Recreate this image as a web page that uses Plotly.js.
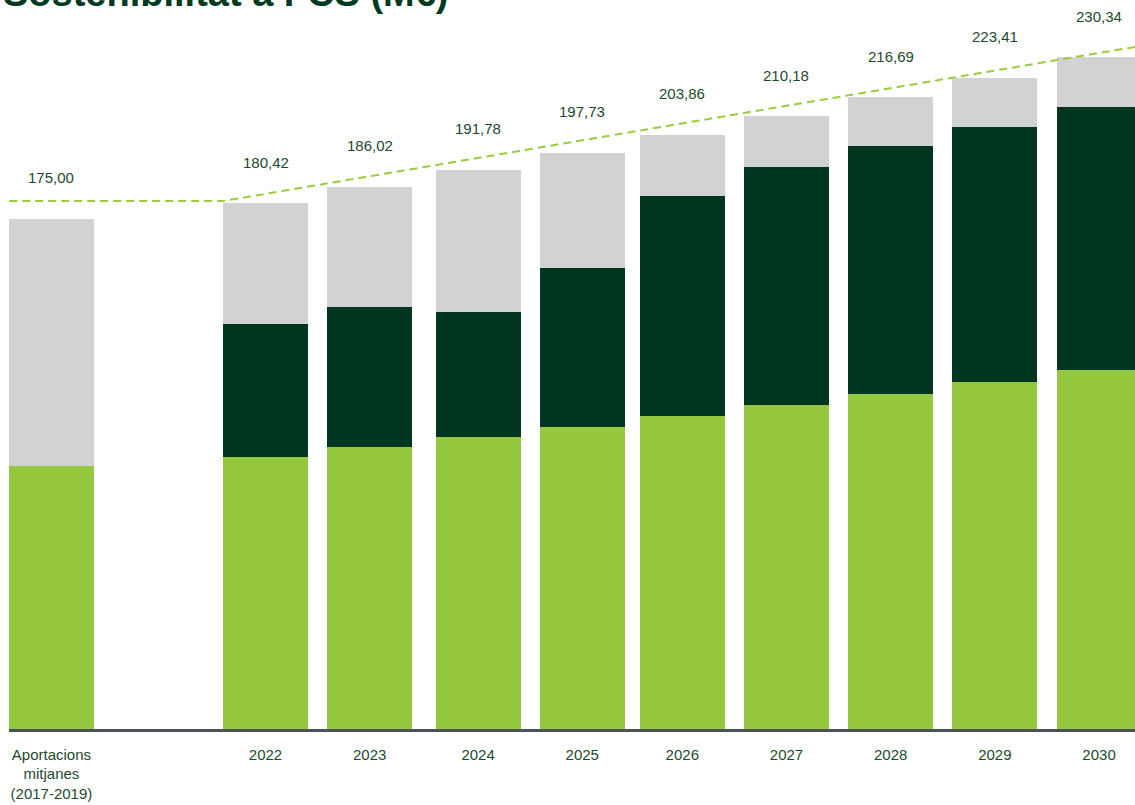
<!DOCTYPE html>
<html>
<head>
<meta charset="utf-8">
<script src="https://cdn.plot.ly/plotly-3.0.1.min.js"></script>
<style>html,body{margin:0;padding:0;background:#fff;}#chart{width:1135px;height:805px;}</style>
</head>
<body>
<div id="chart"></div>
<script>
// ---- data ----
const categories = ["Aportacions<br>mitjanes<br>(2017-2019)", "2022", "2023", "2024", "2025", "2026", "2027", "2028", "2029", "2030"];
const xPositions = [-0.055, 2, 3, 4.04, 5.04, 6, 7, 8, 9, 10];
const totals    = [175.00, 180.42, 186.02, 191.78, 197.73, 203.86, 210.18, 216.69, 223.41, 230.34];
const greenPart = [90.2, 93.3, 96.7, 100.2, 103.6, 107.4, 111.1, 114.9, 119.0, 123.2];
const darkPart  = [0, 45.6, 48.1, 42.9, 54.5, 75.4, 81.7, 85.1, 87.5, 90.2];
const greyPart  = totals.map((t, i) => +(t - greenPart[i] - darkPart[i]).toFixed(2));
const trendX = [-0.46, 1.59, 10.35];
const trendY = [181.1, 181.1, 234.0];
const titleText = "Sostenibilitat a FCS (M€)";

const FONT = "Liberation Sans, Arial, Helvetica, sans-serif";
const TEXT = "#1c4a2c";

const barW = 0.816;
const traces = [
  {type: "bar", x: xPositions, y: greenPart, width: barW, marker: {color: "#96c83f"}, hoverinfo: "skip"},
  {type: "bar", x: xPositions, y: darkPart, width: barW, marker: {color: "#00361f"}, hoverinfo: "skip"},
  {type: "bar", x: xPositions, y: greyPart, width: barW, marker: {color: "#d1d2d4"}, hoverinfo: "skip"},
  {type: "scatter", mode: "lines", x: trendX, y: trendY, line: {color: "#9bcb3f", width: 2, dash: "8px,5px"}, hoverinfo: "skip"}
];

const annotations = totals.map((t, i) => ({
  x: xPositions[i], y: t, xref: "x", yref: "y",
  text: t.toFixed(2).replace(".", ","),
  showarrow: false, yanchor: "middle", yshift: 41,
  font: {family: FONT, size: 15, color: TEXT}
}));
annotations.push({
  xref: "paper", yref: "paper", x: -0.007, y: 1.0057, xanchor: "left", yanchor: "bottom",
  text: "<b>" + titleText + "</b>", showarrow: false,
  font: {family: FONT, size: 38, color: "#003a20"}
});

const layout = {
  width: 1135, height: 805,
  margin: {l: 9, r: 0, t: 20, b: 76},
  paper_bgcolor: "#ffffff", plot_bgcolor: "#ffffff",
  barmode: "stack", bargap: 0,
  showlegend: false, hovermode: false,
  xaxis: {
    type: "linear", range: [-0.462, 10.345],
    tickvals: xPositions, ticktext: categories,
    showgrid: false, zeroline: false,
    showline: true, linecolor: "#4b5257", linewidth: 2.5,
    ticks: "", ticklabelstandoff: 10,
    tickfont: {family: FONT, size: 15, color: TEXT}
  },
  yaxis: {
    range: [0, 243.2], visible: false, showgrid: false, zeroline: false
  },
  annotations: annotations
};

Plotly.newPlot("chart", traces, layout, {displayModeBar: false, staticPlot: true});
</script>
</body>
</html>
